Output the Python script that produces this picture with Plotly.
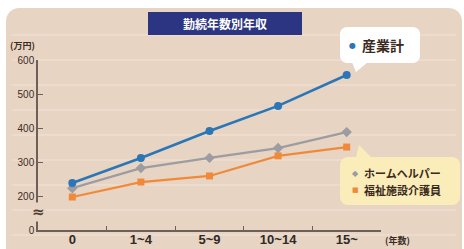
import math
import plotly.graph_objects as go

categories = ["0", "1~4", "5~9", "10~14", "15~"]
sangyo = [238, 312, 391, 465, 556]
helper = [223, 282, 312, 341, 388]
kaigo = [197, 241, 259, 318, 344]
ytick_vals = [100, 200, 300, 400, 500, 600]
ytick_text = ["0", "200", "300", "400", "500", "600"]

W, H = 464, 249
L, R, T, B = 38, 381, 60, 230


def px(x):
    return (x - L) / (R - L)


def py(y):
    return (B - y) / (B - T)


def path(points, close=True):
    s = "M " + " L ".join(f"{px(x):.4f},{py(y):.4f}" for x, y in points)
    return s + (" Z" if close else "")


def rounded(x0, y0, x1, y1, r):
    pts = []
    corners = [(x1 - r, y0 + r, -90), (x1 - r, y1 - r, 0), (x0 + r, y1 - r, 90), (x0 + r, y0 + r, 180)]
    for cx, cy, a0 in corners:
        for k in range(7):
            a = math.radians(a0 + k * 15)
            pts.append((cx + r * math.cos(a), cy + r * math.sin(a)))
    return pts


fig = go.Figure()

fig.add_trace(go.Scatter(x=categories, y=kaigo, mode="lines+markers",
                         line=dict(color="#f08a3a", width=2.2),
                         marker=dict(symbol="square", size=7, color="#f08a3a")))
fig.add_trace(go.Scatter(x=categories, y=helper, mode="lines+markers",
                         line=dict(color="#9c9ca2", width=2.2),
                         marker=dict(symbol="diamond", size=8, color="#9c9ca2")))
fig.add_trace(go.Scatter(x=categories, y=sangyo, mode="lines+markers",
                         line=dict(color="#2a76b6", width=2.6),
                         marker=dict(symbol="circle", size=8, color="#2a76b6")))

shapes = []
shapes.append(dict(type="path", xref="paper", yref="paper", layer="below",
                   path=path(rounded(6, 8, 462, 262, 13)),
                   fillcolor="#e8d4c3", line=dict(width=0)))
for y in [35, 60, 85, 110, 135, 160, 185, 210, 235]:
    shapes.append(dict(type="line", xref="paper", yref="paper", layer="below",
                       x0=px(12), x1=px(456), y0=py(y), y1=py(y),
                       line=dict(color="#f1e4d8", width=1.2)))
shapes.append(dict(type="rect", xref="paper", yref="paper",
                   x0=px(148), x1=px(302), y0=py(12), y1=py(35),
                   fillcolor="#2b3582", line=dict(width=0)))
shapes.append(dict(type="path", xref="paper", yref="paper",
                   path=path([(352, 62), (356, 72), (368, 62)]),
                   fillcolor="#ffffff", line=dict(width=0)))
shapes.append(dict(type="path", xref="paper", yref="paper",
                   path=path(rounded(340, 27, 420, 63, 7)), fillcolor="#ffffff", line=dict(width=0)))
shapes.append(dict(type="path", xref="paper", yref="paper",
                   path=path([(356, 158), (359, 145), (372, 158)]),
                   fillcolor="#fbedb9", line=dict(width=0)))
shapes.append(dict(type="path", xref="paper", yref="paper",
                   path=path(rounded(340, 157, 460, 205, 8)),
                   fillcolor="#fbedb9", line=dict(width=0)))

ann = []


def text(x, y, t, size, color, family="Noto Sans CJK JP", anchor="center"):
    ann.append(dict(xref="paper", yref="paper", x=px(x), y=py(y), text=t, xanchor=anchor,
                    yanchor="middle", showarrow=False,
                    font=dict(family=family, size=size, color=color)))


text(225, 23.5, "<b>勤続年数別年収</b>", 12, "#ffffff")
text(22, 45, "<b>(万円)</b>", 9, "#3a2c25")
text(397, 240, "<b>(年数)</b>", 9, "#3a2c25")
ann.append(dict(xref="paper", yref="paper", x=px(38.5), y=py(212), text="<b>≈</b>",
                xanchor="center", yanchor="middle",
                showarrow=False, font=dict(family="DejaVu Sans", size=15, color="#4e4038"),
                bgcolor="#e8d4c3", borderpad=0))
text(352, 45, "●", 8, "#2a76b6", "DejaVu Sans")
text(360, 45, "<b>産業計</b>", 14, "#3a2a20", anchor="left")
text(355, 173, "◆", 8, "#9c9ca2", "DejaVu Sans")
text(362, 173, "<b>ホームヘルパー</b>", 11, "#3a2a20", anchor="left")
text(355, 190, "■", 7, "#f08a3a", "DejaVu Sans")
text(362, 190, "<b>福祉施設介護員</b>", 11, "#3a2a20", anchor="left")

fig.update_layout(
    width=W, height=H,
    margin=dict(l=L, r=W - R, t=T, b=H - B, pad=0, autoexpand=False),
    paper_bgcolor="#ffffff", plot_bgcolor="rgba(0,0,0,0)",
    showlegend=False, shapes=shapes, annotations=ann,
    xaxis=dict(type="category", range=[-0.5, 4.5], showgrid=False, zeroline=False, automargin=False,
               showline=True, linecolor="#6e6058", linewidth=1.5,
               ticks="inside", tickson="boundaries", ticklen=4, tickcolor="#6e6058",
               ticklabelstandoff=-3,
               tickfont=dict(family="Liberation Sans", size=13, color="#2f2a28"),
               tickprefix="<b>", ticksuffix="</b>"),
    yaxis=dict(range=[100, 600], tickvals=ytick_vals, ticktext=ytick_text, automargin=False,
               showgrid=False, zeroline=False, showline=True, linecolor="#6e6058", linewidth=1.5,
               ticks="inside", ticklen=5, tickcolor="#6e6058",
               tickfont=dict(family="Liberation Sans", size=10, color="#3a2c25"),
               tickprefix="<b>", ticksuffix="</b>"),
)

fig.write_html("out.html", config={"displayModeBar": False},
               post_script="document.body.style.margin='0';document.body.style.overflow='hidden';")
